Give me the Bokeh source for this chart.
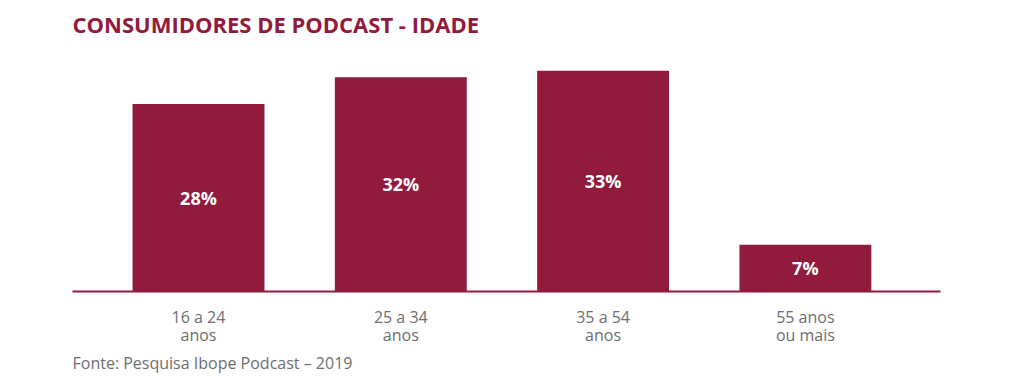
from bokeh.plotting import figure
from bokeh.models import Range1d, FixedTicker, Title, ColumnDataSource
from bokeh.core.properties import value
from bokeh.embed import file_html
from bokeh.resources import INLINE

categories = ["16 a 24\nanos", "25 a 34\nanos", "35 a 54\nanos", "55 anos\nou mais"]
values = [28, 32, 33, 7]
value_labels = ["28%", "32%", "33%", "7%"]

CRIMSON = "#921a3c"
GREY = "#6d6e71"

idx = list(range(len(categories)))
src = ColumnDataSource(dict(
    x=idx,
    top=values,
    mid=[v / 2 for v in values],
    lab=value_labels,
))

p = figure(width=1000, height=373, output_backend="svg", toolbar_location=None,
           x_range=Range1d(-0.623, 3.668), y_range=Range1d(0, 36.76),
           min_border_left=72, min_border_right=60, min_border_bottom=20, min_border_top=10)

p.title.text = "CONSUMIDORES DE PODCAST - IDADE"
p.title.text_font = "Open Sans"
p.title.text_font_style = "bold"
p.title.text_font_size = "22px"
p.title.text_color = CRIMSON
p.title.align = "left"
p.title.offset = 0
p.title.standoff = 13

p.vbar(x="x", top="top", bottom=0, width=0.652, source=src,
       fill_color=CRIMSON, line_color=None)
p.text(x="x", y="mid", text="lab", source=src, text_color="white",
       text_font=value("Open Sans"), text_font_style="bold", text_font_size="18px",
       text_align="center", text_baseline="middle")

p.xaxis.ticker = FixedTicker(ticks=idx)
p.xaxis.major_label_overrides = {i: c for i, c in zip(idx, categories)}
p.xaxis.axis_line_color = CRIMSON
p.xaxis.axis_line_width = 2
p.xaxis.major_tick_line_color = None
p.xaxis.minor_tick_line_color = None
p.xaxis.major_label_text_font = "Open Sans"
p.xaxis.major_label_text_font_size = "16px"
p.xaxis.major_label_text_line_height = 0.85
p.xaxis.major_label_text_color = GREY
p.xaxis.major_label_standoff = 8
p.yaxis.visible = False
p.xgrid.visible = False
p.ygrid.visible = False
p.outline_line_color = None

src_title = Title(text="Fonte: Pesquisa Ibope Podcast \u2013 2019", align="left",
                  text_font="Open Sans", text_font_size="16px", text_font_style="normal",
                  text_color=GREY, standoff=0)
p.add_layout(src_title, "below")

open("out.html", "w").write(file_html(p, INLINE))
